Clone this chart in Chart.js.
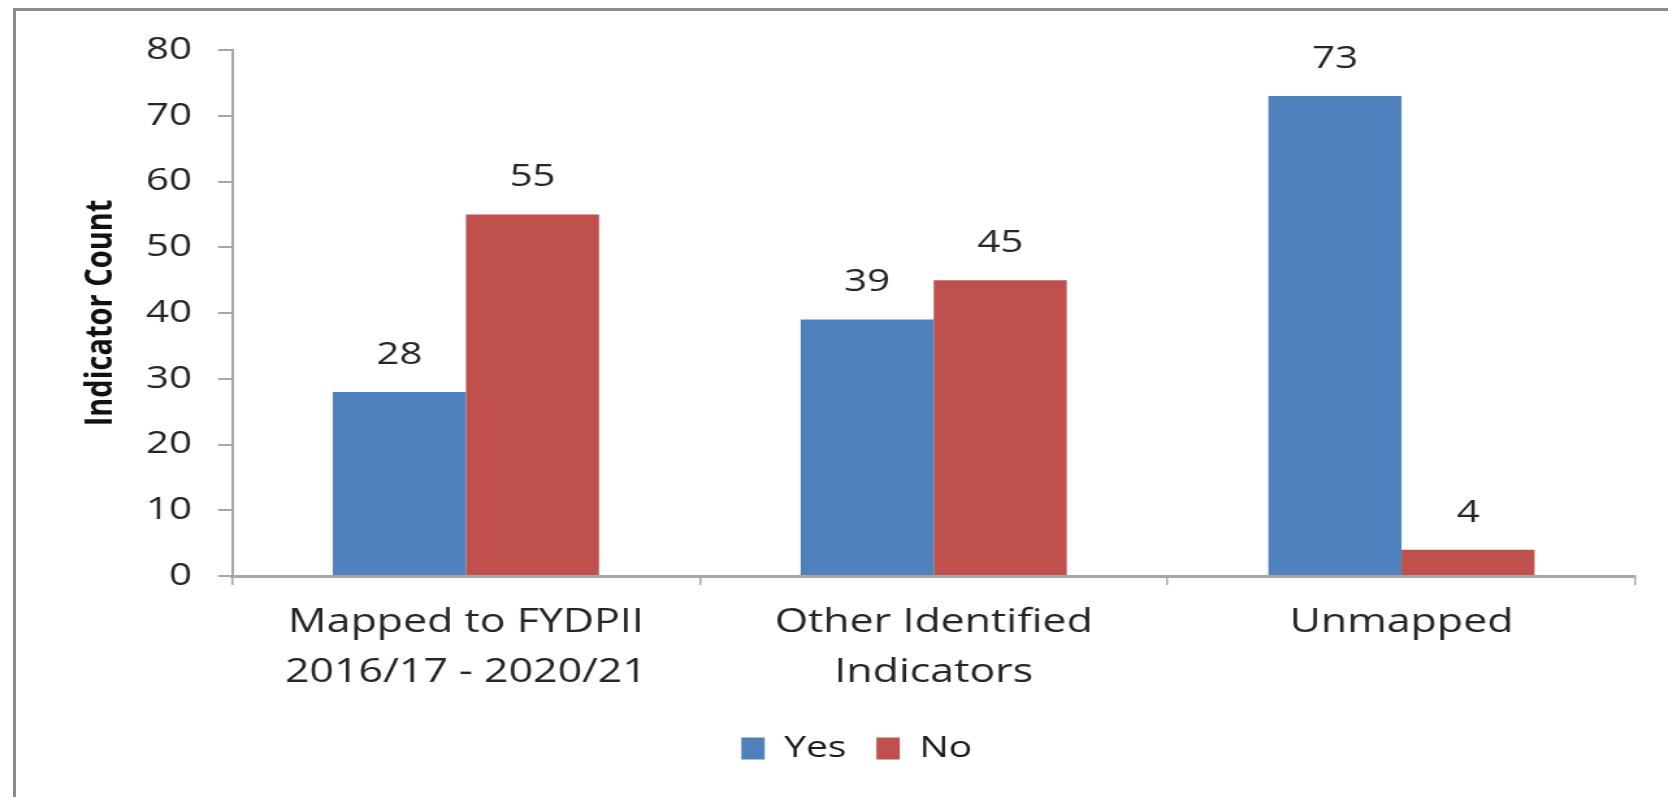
<!DOCTYPE html>
<html>
<head>
<meta charset="utf-8">
<script src="https://cdn.jsdelivr.net/npm/chart.js@4"></script>
<style>
  html, body { margin: 0; padding: 0; background: #fff; overflow: hidden; }
  #frame {
    position: absolute; left: 13px; top: 8px; width: 1700px; height: 820px;
    border-left: 3px solid #8c8c8c; border-top: 3px solid #8c8c8c;
  }
  /* the source picture is stretched sideways, so the canvas is too */
  #myChart {
    position: absolute; left: 0; top: 0;
    transform: scaleX(1.3); transform-origin: 0 0;
  }
</style>
</head>
<body>
<div id="frame"></div>
<canvas id="myChart" width="1283" height="797"></canvas>
<script>
//data
const categories = [
  ['Mapped to FYDPII', '2016/17 - 2020/21'],
  ['Other Identified', 'Indicators'],
  ['Unmapped']
];
const seriesNames = ['Yes', 'No'];
const yesValues = [28, 39, 73];
const noValues = [55, 45, 4];
const yMin = 0;
const yMax = 80;
const yStep = 10;

const textColor = '#262626';
const axisColor = '#a6a6a6';

//value labels above the bars
const barValues = {
  id: 'barValues',
  afterDatasetsDraw(chart) {
    const ctx = chart.ctx;
    ctx.save();
    ctx.font = '31px "Open Sans"';
    ctx.fillStyle = textColor;
    ctx.textAlign = 'center';
    ctx.textBaseline = 'middle';
    chart.data.datasets.forEach((ds, i) => {
      chart.getDatasetMeta(i).data.forEach((bar, j) => {
        ctx.fillText(ds.data[j], bar.x, bar.y - 37);
      });
    });
    ctx.restore();
  }
};

const ctx = document.getElementById('myChart').getContext('2d');
window.myChart = new Chart(ctx, {
  type: 'bar',
  data: {
    labels: categories,
    datasets: [
      {
        label: seriesNames[0],
        data: yesValues,
        backgroundColor: '#4f81bd',
        borderWidth: 0
      },
      {
        label: seriesNames[1],
        data: noValues,
        backgroundColor: '#c0504d',
        borderWidth: 0
      }
    ]
  },
  options: {
    responsive: false,
    animation: false,
    barPercentage: 1,
    categoryPercentage: 0.569,
    layout: {
      padding: { top: 50, right: 25, bottom: 23.5, left: 60 }
    },
    plugins: {
      legend: {
        position: 'bottom',
        labels: {
          boxWidth: 18,
          boxHeight: 22,
          padding: 23,
          color: '#1a1a1a',
          font: { family: 'Open Sans', size: 30 }
        }
      },
      tooltip: { enabled: false }
    },
    scales: {
      x: {
        afterFit: (scale) => { scale.height = 134.5; },
        grid: {
          display: true,
          drawOnChartArea: false,
          drawTicks: true,
          tickLength: 9,
          color: axisColor,
          lineWidth: 1.5
        },
        border: { display: true, color: axisColor, width: 3 },
        ticks: {
          padding: 13.5,
          color: textColor,
          maxRotation: 0,
          font: { family: 'Open Sans', size: 33, lineHeight: 1.49 }
        }
      },
      y: {
        min: yMin,
        max: yMax,
        afterFit: (scale) => { scale.width = 118.5; },
        grid: {
          display: true,
          drawOnChartArea: false,
          drawTicks: true,
          tickLength: 10.8,
          color: axisColor,
          lineWidth: 2
        },
        border: { display: true, color: axisColor, width: 2 },
        ticks: {
          stepSize: yStep,
          padding: 20,
          color: textColor,
          font: { family: 'Open Sans', size: 31 }
        },
        title: {
          display: true,
          text: 'Indicator Count',
          color: '#111',
          padding: { top: 0, bottom: 0 },
          font: { family: 'Open Sans', size: 29, weight: 'bold' }
        }
      }
    }
  },
  plugins: [barValues]
});
</script>
</body>
</html>
